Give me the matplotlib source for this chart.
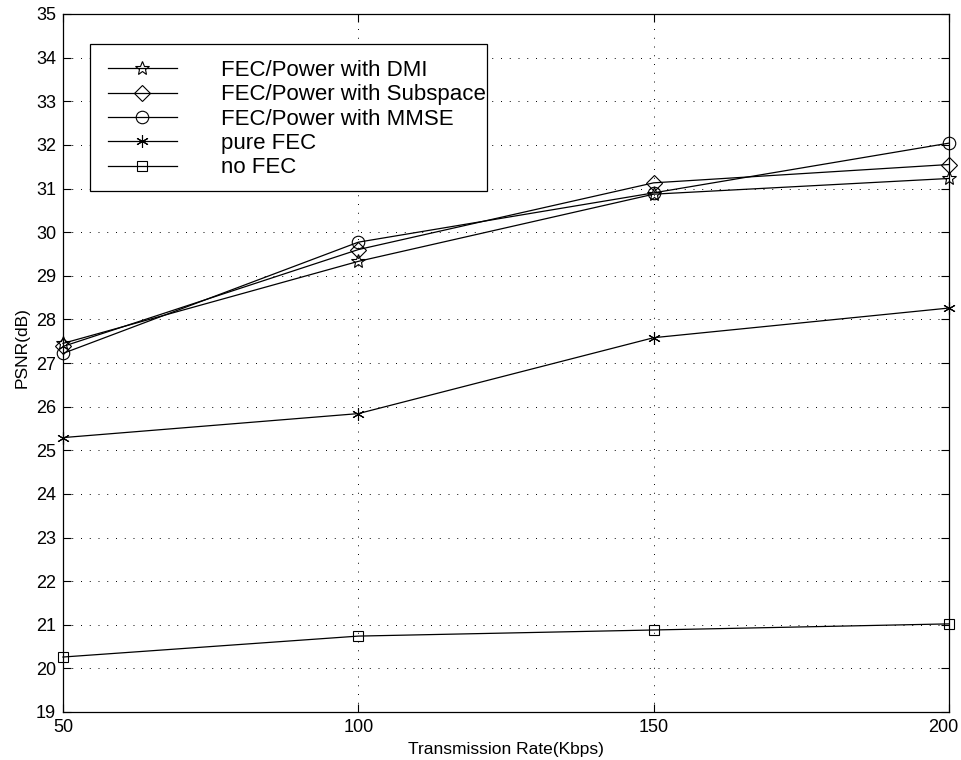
import matplotlib
matplotlib.use("Agg")
import matplotlib.pyplot as plt
from matplotlib.patches import Rectangle
from matplotlib.transforms import ScaledTranslation
from matplotlib import font_manager

rates = [50, 100, 150, 200]
dmi = [27.45, 29.33, 30.87, 31.23]
subspace = [27.38, 29.60, 31.13, 31.55]
mmse = [27.22, 29.77, 30.90, 32.04]
pure_fec = [25.29, 25.84, 27.58, 28.26]
no_fec = [20.26, 20.74, 20.88, 21.02]

labels = ["FEC/Power with DMI", "FEC/Power with Subspace",
          "FEC/Power with MMSE", "pure FEC", "no FEC"]
xticks = [50, 100, 150, 200]
yticks = list(range(19, 36))

names = {f.name for f in font_manager.fontManager.ttflist}
base = "Liberation Sans" if "Liberation Sans" in names else "DejaVu Sans"
plt.rcParams['font.family'] = [base, 'DejaVu Sans']

W, H = 961, 760
fig = plt.figure(figsize=(W / 100, H / 100), dpi=100)
L, R, T, B = 63, 949, 14, 712
ax = fig.add_axes([L / W, 1 - B / H, (R - L) / W, (B - T) / H])

series = [dmi, subspace, mmse, pure_fec, no_fec]
markers = ['*', 'D', 'o', (6, 2, 0), 's']
msizes = [10, 8.5, 9, 9, 7]
handles = []
for vals, mk, ms, lab in zip(series, markers, msizes, labels):
    h, = ax.plot(rates, vals, color='black', lw=0.9, marker=mk, ms=ms,
                 mfc='none', mec='black', mew=0.8, label=lab, clip_on=False,
                 zorder=3)
    handles.append(h)

ax.set_xlim(50, 200)
ax.set_ylim(19, 35)
ax.set_xticks(xticks)
ax.set_yticks(yticks)
ax.tick_params(direction='in', length=6, width=0.8, top=True, right=True,
               labelsize=13, pad=5)
ax.grid(True, color='black', linestyle=(0, (1, 8)), linewidth=0.7)
for s in ax.spines.values():
    s.set_linewidth(0.9)

fig.canvas.draw()
last = ax.get_xticklabels()[-1]
last.set_transform(last.get_transform() + ScaledTranslation(-6 / 100, 0, fig.dpi_scale_trans))

ax.set_xlabel("Transmission Rate(Kbps)", fontsize=12.5, labelpad=4.5)
ax.set_ylabel("PSNR(dB)", fontsize=12.5, labelpad=3)
ax.yaxis.set_label_coords(-0.038, (B - 348) / (B - T))

frame = Rectangle((90 / W, 1 - 191 / H), (487 - 90) / W, (191 - 44) / H,
                  transform=fig.transFigure, fill=True, fc='white',
                  ec='black', lw=0.9, zorder=5)
fig.add_artist(frame)
leg = fig.legend(handles, labels, loc='upper left',
                 bbox_to_anchor=(108 / W, 1 - 60 / H),
                 bbox_transform=fig.transFigure, frameon=False, fontsize=16,
                 handlelength=3.1, handletextpad=2.0, labelspacing=0.15,
                 borderpad=0, borderaxespad=0)
leg.set_zorder(6)

fig.savefig("out.png", dpi=100, facecolor='white')
